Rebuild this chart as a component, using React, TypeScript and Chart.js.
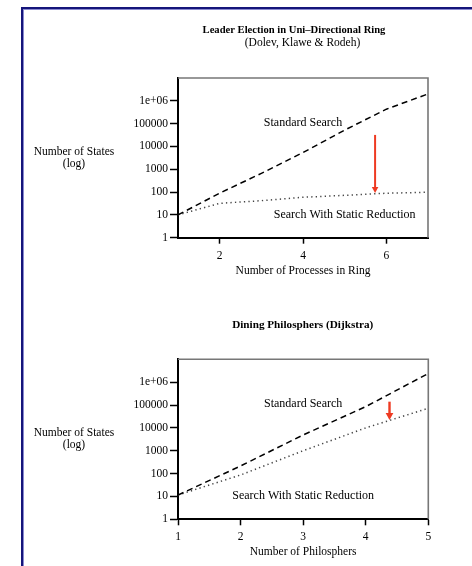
import React, { useEffect, useRef } from "react";
import { Chart, registerables } from "chart.js";

Chart.register(...registerables);

// ---------- data ----------
const ringProcesses = [1, 2, 3, 4, 5, 6, 7];
const ringStandard = [10, 90, 660, 5400, 52000, 430000, 2000000];
const ringReduced = [10, 32, 42, 59, 72, 89, 98];
const ringXTicks = [2, 4, 6];

const philosophers = [1, 2, 3, 4, 5];
const philStandard = [11.5, 215, 4900, 85000, 2400000];
const philReduced = [11.5, 87, 1000, 10000, 72000];
const philXTicks = [1, 2, 3, 4, 5];

const yTickValues = [1, 10, 100, 1000, 10000, 100000, 1000000];
const yTickLabels = ["1", "10", "100", "1000", "10000", "100000", "1e+06"];

// arrows: [x, from y, to y]
const ringArrow = [5.73, 32000, 90];
const philArrow = [4.38, 140000, 22000];

// annotation anchors in data units: [x, y]
const ringStdLabelAt = [4.0, 110000];
const ringRedLabelAt = [5.0, 10];
const philStdLabelAt = [3.0, 110000];
const philRedLabelAt = [3.0, 10.5];

const FONT = '"Liberation Serif", "Times New Roman", serif';

type ChartSpec = {
  top: number;
  height: number;
  xs: number[];
  std: number[];
  red: number[];
  xMin: number;
  xMax: number;
  xTicks: number[];
  pad: { left: number; top: number; right: number; bottom: number };
  titles: { text: string; bold: boolean; size: number; x: number; y: number }[];
  xTitle: string;
  arrow: number[];
  arrowWidth: number;
  arrowHead: number;
  stdAt: number[];
  redAt: number[];
};

function makePlugin(spec: ChartSpec) {
  return {
    id: "annot",
    afterDraw(chart: any) {
      const ctx: CanvasRenderingContext2D = chart.ctx;
      const a = chart.chartArea;
      const xs = chart.scales.x;
      const ys = chart.scales.y;
      ctx.save();
      // top & right frame of plot
      ctx.strokeStyle = "#777";
      ctx.lineWidth = 1.6;
      ctx.beginPath();
      ctx.moveTo(a.left, a.top);
      ctx.lineTo(a.right, a.top);
      ctx.lineTo(a.right, a.bottom);
      ctx.stroke();

      // arrow
      const ax = xs.getPixelForValue(spec.arrow[0]);
      const y1 = ys.getPixelForValue(spec.arrow[1]);
      const y2 = ys.getPixelForValue(spec.arrow[2]);
      const h = spec.arrowHead;
      ctx.strokeStyle = "#ee3a22";
      ctx.fillStyle = "#ee3a22";
      ctx.lineWidth = spec.arrowWidth;
      ctx.beginPath();
      ctx.moveTo(ax, y1);
      ctx.lineTo(ax, y2 - h + 1);
      ctx.stroke();
      ctx.beginPath();
      ctx.moveTo(ax - h * 0.55, y2 - h);
      ctx.lineTo(ax + h * 0.55, y2 - h);
      ctx.lineTo(ax, y2);
      ctx.closePath();
      ctx.fill();

      ctx.fillStyle = "#000";
      ctx.textAlign = "center";
      ctx.textBaseline = "middle";
      // titles
      for (const t of spec.titles) {
        ctx.font = `${t.bold ? "bold " : ""}${t.size}px ${FONT}`;
        ctx.fillText(t.text, t.x, t.y);
      }
      // series labels
      ctx.font = `12px ${FONT}`;
      ctx.fillText(
        "Standard Search",
        xs.getPixelForValue(spec.stdAt[0]),
        ys.getPixelForValue(spec.stdAt[1])
      );
      ctx.fillText(
        "Search With Static Reduction",
        xs.getPixelForValue(spec.redAt[0]),
        ys.getPixelForValue(spec.redAt[1])
      );
      // axis titles
      ctx.font = `11.5px ${FONT}`;
      ctx.fillText(spec.xTitle, (a.left + a.right) / 2, a.bottom + 33);
      ctx.fillText("Number of States", 74, a.top + 73.5);
      ctx.fillText("(log)", 74, a.top + 86);
      ctx.restore();
    },
  };
}

function LogChart({ spec }: { spec: ChartSpec }) {
  const ref = useRef<HTMLCanvasElement>(null);
  useEffect(() => {
    const tickFont = { family: FONT, size: 11.5 };
    const chart = new Chart(ref.current as HTMLCanvasElement, {
      type: "line",
      data: {
        datasets: [
          {
            label: "Standard Search",
            data: spec.xs.map((x, i) => ({ x, y: spec.std[i] })),
            borderColor: "#000",
            borderWidth: 1.5,
            borderDash: [6, 4],
            pointRadius: 0,
            fill: false,
            tension: 0,
          },
          {
            label: "Search With Static Reduction",
            data: spec.xs.map((x, i) => ({ x, y: spec.red[i] })),
            borderColor: "#444",
            borderWidth: 1.5,
            borderDash: [1.3, 3.2],
            pointRadius: 0,
            fill: false,
            tension: 0,
          },
        ],
      },
      options: {
        animation: false,
        responsive: false,
        layout: { padding: spec.pad },
        plugins: {
          legend: { display: false },
          tooltip: { enabled: false },
          title: { display: false },
        },
        scales: {
          x: {
            type: "linear",
            min: spec.xMin,
            max: spec.xMax,
            afterFit: (s: any) => {
              s.height = 30;
            },
            afterBuildTicks: (s: any) => {
              s.ticks = spec.xTicks.map((v) => ({ value: v }));
            },
            grid: {
              drawOnChartArea: false,
              drawTicks: true,
              tickLength: 6,
              tickColor: "#000",
              tickWidth: 1.5,
            },
            border: { color: "#000", width: 2 },
            ticks: {
              color: "#000",
              font: tickFont,
              padding: 5,
              maxRotation: 0,
              autoSkip: false,
              callback: (v: any) => String(v),
            },
          },
          y: {
            type: "logarithmic",
            min: 1,
            max: 10000000,
            afterFit: (s: any) => {
              s.width = 178;
            },
            afterBuildTicks: (s: any) => {
              s.ticks = yTickValues.map((v) => ({ value: v }));
            },
            grid: {
              drawOnChartArea: false,
              drawTicks: true,
              tickLength: 8,
              tickColor: "#000",
              tickWidth: 1.5,
            },
            border: { color: "#000", width: 2 },
            ticks: {
              color: "#000",
              font: tickFont,
              padding: 2,
              autoSkip: false,
              callback: (_v: any, i: number) => yTickLabels[i],
            },
          },
        },
      } as any,
      plugins: [makePlugin(spec)],
    });
    return () => chart.destroy();
  }, []);
  return (
    <canvas
      ref={ref}
      width={472}
      height={spec.height}
      style={{ position: "absolute", left: 0, top: spec.top, display: "block" }}
    />
  );
}

const ringSpec: ChartSpec = {
  top: 0,
  height: 300,
  xs: ringProcesses,
  std: ringStandard,
  red: ringReduced,
  xMin: 1,
  xMax: 7,
  xTicks: ringXTicks,
  pad: { left: 0, top: 78, right: 44, bottom: 32.3 },
  titles: [
    { text: "Leader Election in Uni\u2013Directional Ring", bold: true, size: 10.6, x: 294, y: 30 },
    { text: "(Dolev, Klawe & Rodeh)", bold: false, size: 11.5, x: 302.5, y: 43 },
  ],
  xTitle: "Number of Processes in Ring",
  arrow: ringArrow,
  arrowWidth: 2,
  arrowHead: 6,
  stdAt: ringStdLabelAt,
  redAt: ringRedLabelAt,
};

const philSpec: ChartSpec = {
  top: 300,
  height: 266,
  xs: philosophers,
  std: philStandard,
  red: philReduced,
  xMin: 1,
  xMax: 5,
  xTicks: philXTicks,
  pad: { left: 0, top: 59.3, right: 43.7, bottom: 16.7 },
  titles: [{ text: "Dining Philosphers (Dijkstra)", bold: true, size: 11.2, x: 302.7, y: 25 }],
  xTitle: "Number of Philosphers",
  arrow: philArrow,
  arrowWidth: 2.4,
  arrowHead: 7,
  stdAt: philStdLabelAt,
  redAt: philRedLabelAt,
};

export default function App() {
  return (
    <div
      style={{
        position: "absolute",
        left: 0,
        top: 0,
        width: 472,
        height: 566,
        background: "#fff",
        overflow: "hidden",
      }}
    >
      <div
        style={{
          position: "absolute",
          left: 21,
          top: 7,
          width: 480,
          height: 600,
          borderLeft: "2px solid #15157a",
          borderTop: "2px solid #15157a",
        }}
      >
        <div
          style={{
            position: "absolute",
            left: 0,
            top: 0,
            width: 480,
            height: 600,
            borderLeft: "1px solid #8a8ad0",
            borderTop: "1px solid #8a8ad0",
          }}
        />
      </div>
      <LogChart spec={ringSpec} />
      <LogChart spec={philSpec} />
    </div>
  );
}
